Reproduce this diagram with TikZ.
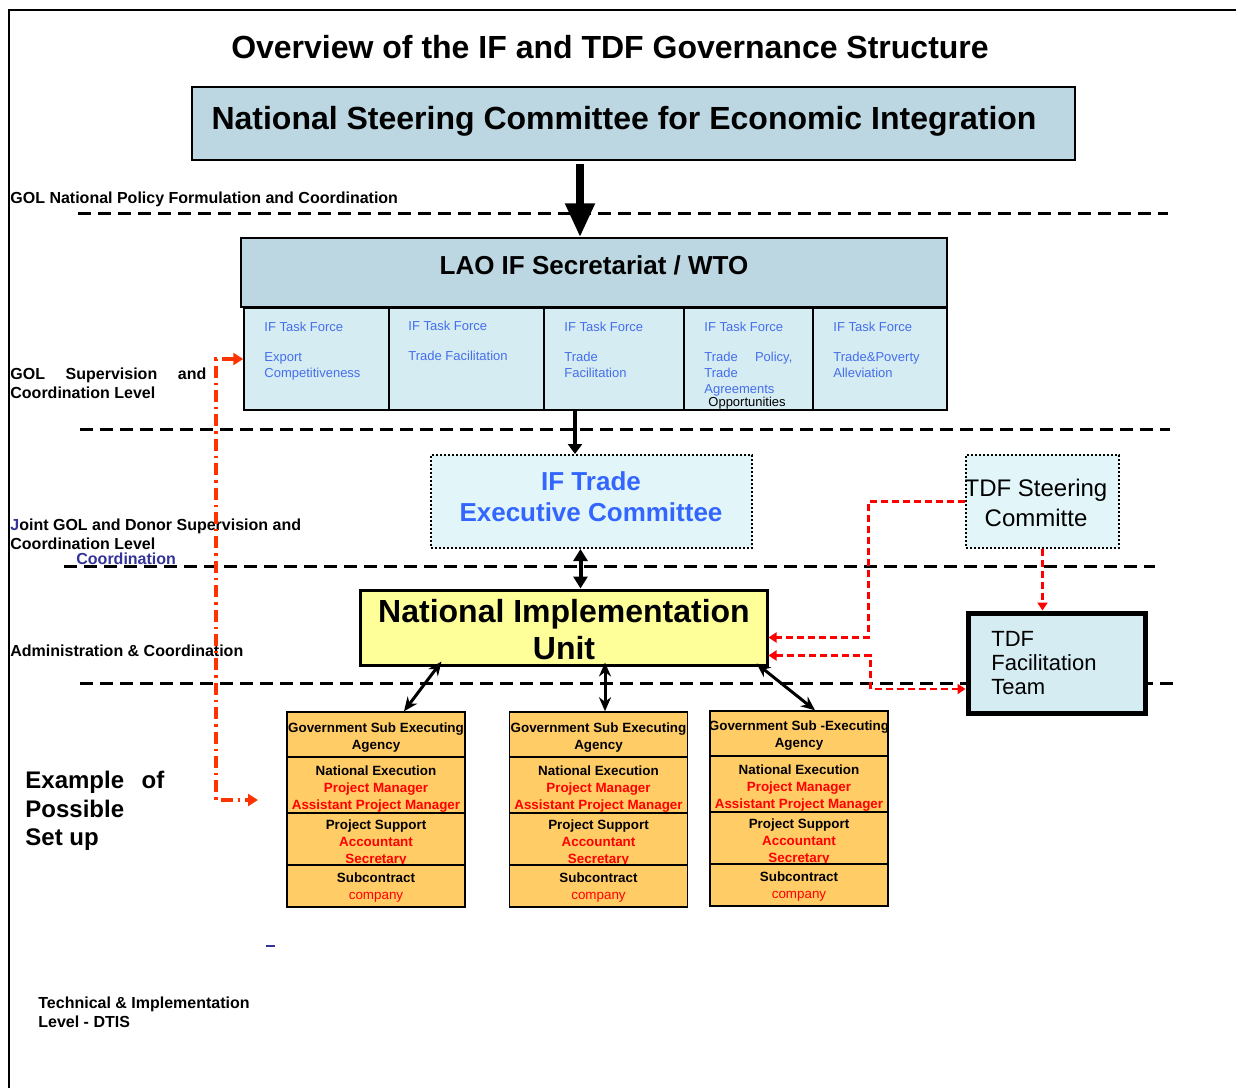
\documentclass[tikz,border=0pt]{standalone}
\usepackage{fontspec}
\setmainfont{Liberation Sans}
\usetikzlibrary{arrows.meta,fit,calc}

\definecolor{nscblue}{RGB}{188,215,226}
\definecolor{cellblue}{RGB}{212,236,242}
\definecolor{paleblue}{RGB}{226,246,250}
\definecolor{niuyellow}{RGB}{255,255,153}
\definecolor{agencyorange}{RGB}{255,204,102}
\definecolor{tfblue}{RGB}{70,110,235}
\definecolor{iftblue}{RGB}{51,102,255}
\definecolor{navyblue}{RGB}{51,51,153}
\definecolor{linkorange}{RGB}{255,51,0}

\newcommand\fsz[2]{\fontsize{#1}{#2}\selectfont}
% strut that lowers the text block inside an agency row
\newcommand\agtop[1]{\rule{0pt}{#1}}

\tikzset{
  frameline/.style={line width=1.25pt},
  levelline/.style={line width=1.5pt, dash pattern=on 6.5pt off 3.5pt},
  plainbox/.style={draw, inner sep=0pt, line width=0.75pt},
  cellbox/.style={plainbox, fill=cellblue},
  dotbox/.style={draw, densely dotted, line width=1pt, fill=paleblue, inner sep=0pt},
  agency/.style={plainbox, fill=agencyorange, align=center, minimum width=89pt,
    font=\fsz{6.7}{8.5}\bfseries},
  tftext/.style={anchor=north west, inner sep=0pt, align=left, text=tfblue, font=\fsz{6.5}{8}},
  lvl/.style={anchor=north west, inner sep=0pt, align=left, font=\fsz{8}{9.5}\bfseries},
  bigarrow/.style={line width=4pt, -{Triangle[width=14pt,length=17pt]}},
  downarrow/.style={line width=2pt, -{Triangle[width=7pt,length=5pt]}},
  twoway/.style={line width=2pt, {Triangle[width=7pt,length=6pt]}-{Triangle[width=7pt,length=6pt]}},
  agencylink/.style={line width=1.5pt, {Stealth[width=6pt,length=7pt]}-{Stealth[width=6pt,length=7pt]}},
  reddash/.style={red, line width=1.1pt, dash pattern=on 3.5pt off 2pt},
  redtip/.style={-{Triangle[width=5pt,length=4pt]}},
  linkdash/.style={linkorange, line width=1.6pt, dash pattern=on 6pt off 2.5pt on 1.2pt off 2.5pt}
}

\begin{document}
\begin{tikzpicture}[x=0.5pt,y=-0.5pt]
\useasboundingbox (0,0) rectangle (1236,1088);

% page frame
\draw[frameline] (9,1088) -- (9,10) -- (1236,10);

% level separators
\draw[levelline] (78,213) -- (1168,213);
\draw[levelline] (80,429) -- (1170,429);
\draw[levelline] (64,566) -- (1155,566);
\draw[levelline] (80,683) -- (1180,683);

% title
\node[anchor=base, inner sep=0pt, font=\fsz{16}{19}\bfseries] (title) at (610,58)
  {Overview of the IF and TDF Governance Structure};

% national steering committee
\node[plainbox, fill=nscblue, fit={(192,87)(1075,160)}] (nsc) {};
\node[anchor=base, inner sep=0pt, font=\fsz{16}{19}\bfseries] (nsctext) at (624,129)
  {National Steering Committee for Economic Integration};

% secretariat and task forces
\node[plainbox, fill=nscblue, fit={(241,238)(947,307)}] (lao) {};
\node[anchor=base, inner sep=0pt, font=\fsz{13}{15}\bfseries] (laotext) at (594,274)
  {LAO IF Secretariat / WTO};

\node[cellbox, fit={(244,308)(389,410)}] (tf1) {};
\node[cellbox, fit={(389,308)(544,410)}] (tf2) {};
\node[cellbox, fit={(544,308)(684,410)}] (tf3) {};
\node[cellbox, fit={(684,308)(813,410)}] (tf4) {};
\node[cellbox, fit={(813,308)(947,410)}] (tf5) {};

\node[tftext] (tf1t) at (264,322) {IF Task Force\\[7pt]Export\\Competitiveness};
\node[tftext] (tf2t) at (408,321) {IF Task Force\\[7pt]Trade Facilitation};
\node[tftext] (tf3t) at (564,322) {IF Task Force\\[7pt]Trade\\Facilitation};
\node[tftext] (tf4t) at (704,322) {IF Task Force\\[7pt]\makebox[44pt][s]{Trade Policy,}\\Trade\\Agreements\\[-1.5pt]\hspace*{2pt}\textcolor{black}{Opportunities}};
\node[tftext] (tf5t) at (833,322) {IF Task Force\\[7pt]Trade\&Poverty\\Alleviation};

% executive committee and TDF steering committee
\node[dotbox, fit={(431,455)(752,548)}] (ifte) {};
\node[anchor=north, inner sep=0pt, align=center, text=iftblue, font=\fsz{13}{15.5}\bfseries] (iftetext) at (591,471)
  {IF Trade\\Executive Committee};

\node[dotbox, fit={(966,455)(1119,548)}] (tdfsc) {};
\node[anchor=north, inner sep=0pt, align=center, font=\fsz{12}{15}] (tdfsctext) at (1036,479)
  {TDF Steering\\Committe};

% implementation unit and TDF facilitation team
\node[draw, line width=1.5pt, fill=niuyellow, inner sep=0pt, fit={(360,590)(767,665)}] (niu) {};
\node[anchor=north, inner sep=0pt, align=center, font=\fsz{16}{18.5}\bfseries] (niutext) at (564,599)
  {National Implementation\\Unit};

\node[draw, line width=2.5pt, fill=cellblue, inner sep=0pt, fit={(968,613)(1145,713)}] (tdfft) {};
\node[anchor=north west, inner sep=0pt, align=left, font=\fsz{11}{12}] (tdffttext) at (991,631)
  {TDF\\Facilitation\\Team};

% executing agencies: four stacked rows each
\node[agency, minimum height=22.5pt] (a1r1) at (376,734.5) {\agtop{7.8pt}\makebox[88pt]{Government Sub Executing}\\Agency};
\node[agency, minimum height=28.5pt] (a1r2) at (376,785.5) {\agtop{8pt}National Execution\\\textcolor{red}{Project Manager}\\\textcolor{red}{Assistant Project Manager}};
\node[agency, minimum height=25.5pt] (a1r3) at (376,839.5) {\agtop{8pt}Project Support\\\textcolor{red}{Accountant}\\\textcolor{red}{Secretary}};
\node[agency, minimum height=21pt] (a1r4) at (376,886) {\agtop{6pt}Subcontract\\\textcolor{red}{\mdseries company}};

\node[agency, minimum height=22.5pt] (a2r1) at (598.5,734.5) {\agtop{7.8pt}\makebox[88pt]{Government Sub Executing}\\Agency};
\node[agency, minimum height=28.5pt] (a2r2) at (598.5,785.5) {\agtop{8pt}National Execution\\\textcolor{red}{Project Manager}\\\textcolor{red}{Assistant Project Manager}};
\node[agency, minimum height=25.5pt] (a2r3) at (598.5,839.5) {\agtop{8pt}Project Support\\\textcolor{red}{Accountant}\\\textcolor{red}{Secretary}};
\node[agency, minimum height=21pt] (a2r4) at (598.5,886) {\agtop{6pt}Subcontract\\\textcolor{red}{\mdseries company}};

\node[agency, minimum height=22.5pt] (a3r1) at (799,733.5) {\agtop{7.4pt}\makebox[88pt]{Government Sub -Executing}\\Agency};
\node[agency, minimum height=28.5pt] (a3r2) at (799,784.5) {\agtop{8pt}National Execution\\\textcolor{red}{Project Manager}\\\textcolor{red}{Assistant Project Manager}};
\node[agency, minimum height=25.5pt] (a3r3) at (799,838.5) {\agtop{8pt}Project Support\\\textcolor{red}{Accountant}\\\textcolor{red}{Secretary}};
\node[agency, minimum height=21pt] (a3r4) at (799,885) {\agtop{6pt}Subcontract\\\textcolor{red}{\mdseries company}};

% level captions
\node[lvl] (cap1) at (10,191) {GOL National Policy Formulation and Coordination};
\node[lvl] (cap2) at (10,367) {\makebox[98pt][s]{GOL Supervision and}\\Coordination Level};
\node[lvl] (cap3) at (10,518) {\textcolor{navyblue}{J}oint GOL and Donor Supervision and\\Coordination Level};
\node[lvl, text=navyblue] (cap3b) at (76,552) {Coordination};
\node[lvl] (cap4) at (10,644) {Administration \& Coordination};
\node[lvl, font=\fsz{12}{14.25}\bfseries] (cap5) at (25,771) {\makebox[69.5pt][s]{Example of}\\Possible\\Set up};
\node[lvl] (cap6) at (38,996) {Technical \& Implementation\\Level - DTIS};
\draw[navyblue, line width=1.2pt] (266,946) -- (275,946);

% vertical links
\coordinate (nscx) at ($(nsc.south)+(-53.5,3)$);
\draw[bigarrow] (nscx) -- (nscx |- lao.north);

\coordinate (laox) at ($(tf3.south)+(-39,0)$);
\draw[downarrow] (laox) -- (laox |- ifte.north);

\coordinate (ifx) at ($(ifte.south)+(-11,0)$);
\draw[twoway] (ifx) -- (ifx |- niu.north);

\draw[agencylink] ($(niu.south west)+(83,-5)$) -- ($(a1r1.north)+(28,0)$);
\draw[agencylink] ($(niu.south)+(41.5,-4)$) -- ($(a2r1.north)+(6.5,0)$);
\draw[agencylink] ($(niu.south east)+(-12,-3)$) -- ($(a3r1.north)+(16,0)$);

% TDF links
\coordinate (r1) at ($(niu.east)+(0,10)$);
\draw[reddash, redtip] (tdfsc.west) -| ($(r1)+(100,0)$) -- (r1);
\draw[reddash, redtip] (tdfsc.south) -- (tdfsc.south |- tdfft.north);
\coordinate (r2) at ($(niu.east)+(0,28)$);
\coordinate (r3) at ($(tdfft.west)+(0,26)$);
\draw[reddash, {Triangle[width=5pt,length=4pt]}-{Triangle[width=5pt,length=4pt]}] (r2) -- ++(102,0) |- (r3);

% task force to agency link
\coordinate (lktop) at (216,359);
\coordinate (lkbot) at (216,800);
\coordinate (lkend) at (258,800);
\draw[linkdash, {Triangle[width=6pt,length=5pt]}-{Triangle[width=6pt,length=5pt]}]
  (lktop -| tf1.west) -- (lktop) -- (lkbot) -- (lkend);
\end{tikzpicture}
\end{document}
